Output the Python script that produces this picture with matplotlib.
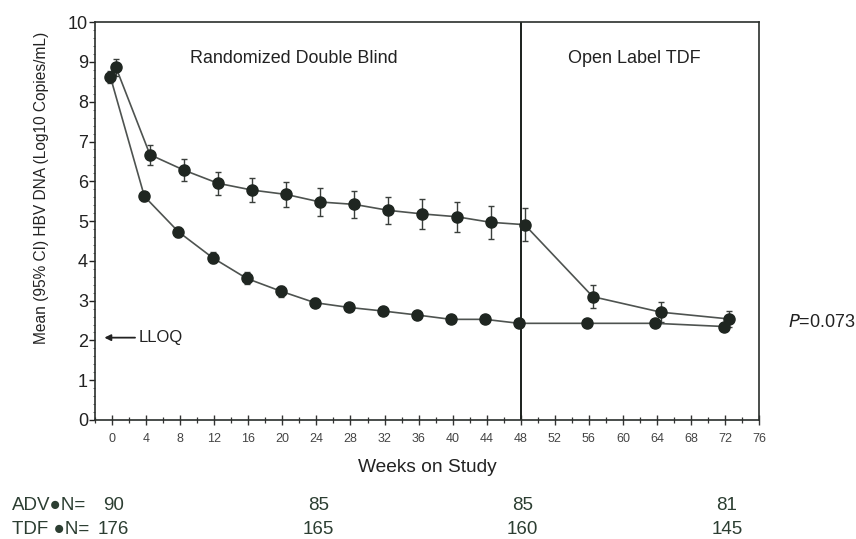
import matplotlib
matplotlib.use("Agg")
import matplotlib.pyplot as plt
from matplotlib.ticker import MultipleLocator

plt.rcParams['font.family'] = ['Liberation Sans', 'DejaVu Sans']

weeks = [0, 4, 8, 12, 16, 20, 24, 28, 32, 36, 40, 44, 48, 56, 64, 72]
adv_mean = [8.87, 6.67, 6.28, 5.95, 5.78, 5.67, 5.48, 5.42, 5.27, 5.18, 5.11, 4.97, 4.91, 3.10, 2.71, 2.54]
adv_ci = [0.21, 0.25, 0.28, 0.29, 0.31, 0.31, 0.35, 0.33, 0.34, 0.37, 0.38, 0.41, 0.42, 0.29, 0.25, 0.19]
tdf_mean = [8.63, 5.62, 4.73, 4.08, 3.56, 3.24, 2.95, 2.83, 2.74, 2.64, 2.53, 2.53, 2.43, 2.43, 2.43, 2.35]
tdf_ci = [0.15, 0.12, 0.13, 0.14, 0.15, 0.14, 0.11, 0.10, 0.11, 0.10, 0.07, 0.07, 0.06, 0.07, 0.07, 0.08]

n_weeks = [0, 24, 48, 72]
adv_n = ["90", "85", "85", "81"]
tdf_n = ["176", "165", "160", "145"]

lloq = 2.07

fig = plt.figure(figsize=(8.56, 5.39), dpi=100)
ax = fig.add_axes([0.111, 0.2208, 0.776, 0.738])

line_col = '#4e5350'
mk_col = '#1f2621'

adv_x = [w + 0.45 for w in weeks]
tdf_x = [w - 0.2 for w in weeks]

for xs, ys, es in [(adv_x, adv_mean, adv_ci), (tdf_x, tdf_mean, tdf_ci)]:
    ax.errorbar(xs, ys, yerr=es, color=line_col, lw=1.2, ecolor='#3a3f3c',
                elinewidth=1.0, capsize=2.5, capthick=1.0, marker='o', ms=8,
                mfc=mk_col, mec=mk_col, zorder=3)

ax.axvline(48, color='#1a1f1c', lw=1.4, zorder=2)

ax.set_xlim(-2, 76)
ax.set_ylim(0, 10)
ax.xaxis.set_major_locator(MultipleLocator(4))
ax.xaxis.set_minor_locator(MultipleLocator(2))
ax.yaxis.set_major_locator(MultipleLocator(1))
ax.yaxis.set_minor_locator(MultipleLocator(0.2))
ax.tick_params(axis='x', which='major', direction='inout', length=7, width=1.0,
               labelsize=9, colors='#333', pad=6)
ax.tick_params(axis='x', which='minor', direction='inout', length=5, width=0.9, colors='#333')
ax.tick_params(axis='y', which='major', direction='out', length=4, width=1.0,
               labelsize=13, colors='#222', pad=1)
ax.tick_params(axis='y', which='minor', direction='out', length=1.5, width=0.6, colors='#555')
for lab in ax.get_xticklabels():
    lab.set_color('#444')
for s in ax.spines.values():
    s.set_color('#2a2f2c')
    s.set_linewidth(1.2)

ax.set_ylabel('Mean (95% CI) HBV DNA (Log10 Copies/mL)', fontsize=11.2, color='#222')
ax.yaxis.set_label_coords(-0.0695, 0.583)
ax.set_xlabel('Weeks on Study', fontsize=13.8, color='#222', labelpad=10)

ax.text(21.3, 9.1, 'Randomized Double Blind', ha='center', va='center', fontsize=12.9, color='#222')
ax.text(61.3, 9.1, 'Open Label TDF', ha='center', va='center', fontsize=13, color='#222')

ax.annotate('', xy=(-0.9, lloq), xytext=(2.7, lloq),
            arrowprops=dict(arrowstyle='-|>', color='#222', lw=1.3,
                            mutation_scale=9, shrinkA=0, shrinkB=0))
ax.text(3.1, lloq, 'LLOQ', ha='left', va='center', fontsize=12, color='#222')

ax.text(79.4, 2.45, '$\\mathit{P}$=0.073', ha='left', va='center', fontsize=13, color='#222',
        clip_on=False)

ncol = '#2c3e32'
fig.text(0.014, 1 - 505 / 539, 'ADV●N=', ha='left', va='center', fontsize=13.5, color=ncol)
fig.text(0.014, 1 - 529 / 539, 'TDF ●N=', ha='left', va='center', fontsize=13.5, color=ncol)
for w, a, t in zip(n_weeks, adv_n, tdf_n):
    xf = ax.transData.transform((w, 0))[0] / fig.bbox.width + 0.002
    fig.text(xf, 1 - 505 / 539, a, ha='center', va='center', fontsize=13.5, color=ncol)
    fig.text(xf, 1 - 529 / 539, t, ha='center', va='center', fontsize=13.5, color=ncol)

fig.savefig('out.png', dpi=100, facecolor='white')
